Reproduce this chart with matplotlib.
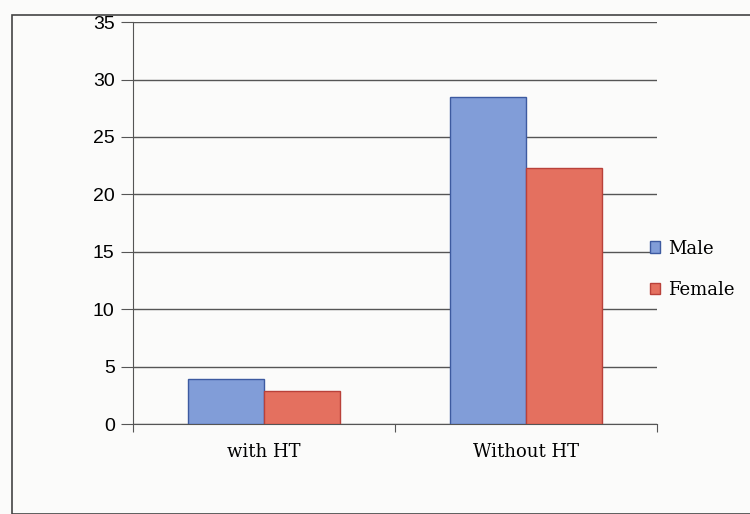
import numpy as np
from matplotlib import pyplot as plt
from matplotlib.patches import Rectangle

groups = ["with HT", "Without HT"]
male = [3.9, 28.5]
female = [2.9, 22.3]
yticks = [0, 5, 10, 15, 20, 25, 30, 35]

fig = plt.figure(figsize=(7.5, 5.14), dpi=100)
fig.patch.set_facecolor("#fbfbfa")

# outer chart frame
fig.add_artist(Rectangle((0.016, 0.0), 0.99, 0.97, transform=fig.transFigure,
                         fill=False, edgecolor="#444444", lw=1.2))

ax = fig.add_axes([0.177, 0.175, 0.699, 0.782])
ax.set_facecolor("#fbfbfa")

x = np.arange(len(groups))
w = 0.29
ax.bar(x - w / 2, male, w, color="#819dd8", edgecolor="#3d5aa0", lw=1.0, label="Male", zorder=3)
ax.bar(x + w / 2, female, w, color="#e4705f", edgecolor="#b9413a", lw=1.0, label="Female", zorder=3)

ax.set_xlim(-0.5, 1.5)
ax.set_ylim(0, 35)
ax.set_yticks(yticks)
ax.yaxis.grid(True, color="#555555", lw=1.0, zorder=0)
ax.tick_params(axis="y", length=9, color="#555555", labelsize=14, pad=4)
for lab in ax.get_yticklabels():
    lab.set_fontfamily("Liberation Sans")

ax.set_xticks([-0.5, 0.5, 1.5], minor=False)
ax.set_xticklabels([])
ax.set_xticks(x, minor=True)
ax.set_xticklabels(groups, minor=True, fontfamily="DejaVu Serif", fontsize=13)
ax.tick_params(axis="x", which="major", length=6, color="#555555")
ax.tick_params(axis="x", which="minor", length=0, pad=14)

for s in ["top", "right"]:
    ax.spines[s].set_visible(False)
ax.spines["left"].set_color("#555555")
ax.spines["bottom"].set_color("#555555")

ax.legend(loc="center left", bbox_to_anchor=(0.955, 0.385), frameon=False,
          prop={"family": "DejaVu Serif", "size": 13}, handlelength=0.6,
          handleheight=0.6, handletextpad=0.4, labelspacing=1.3)

plt.savefig("out.png", dpi=100, facecolor=fig.get_facecolor())
